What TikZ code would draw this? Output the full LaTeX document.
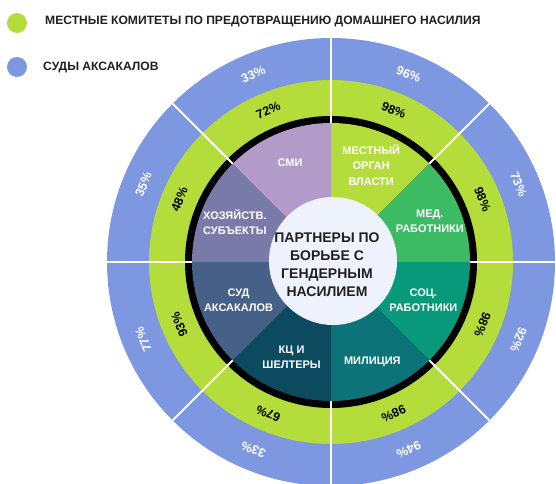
\documentclass[tikz,border=0pt]{standalone}
\usepackage{fontspec}
\setmainfont{Liberation Sans}

\definecolor{ringblue}{RGB}{125,151,225}
\definecolor{ringgreen}{RGB}{180,220,58}
\definecolor{medcol}{RGB}{60,186,100}
\definecolor{soccol}{RGB}{8,152,122}
\definecolor{milcol}{RGB}{12,115,121}
\definecolor{kccol}{RGB}{12,74,96}
\definecolor{sudcol}{RGB}{70,96,135}
\definecolor{hozcol}{RGB}{122,122,168}
\definecolor{smicol}{RGB}{178,155,201}
\definecolor{hubcol}{RGB}{238,242,253}
\definecolor{textdark}{RGB}{35,31,32}

\begin{document}
\begin{tikzpicture}[x=1pt,y=1pt,
  pct/.style={font=\bfseries\fontsize{12.5}{14}\selectfont, inner sep=0pt},
  partner/.style={font=\bfseries\fontsize{11}{15.5}\selectfont, text=white, align=center, inner sep=0pt},
  legend/.style={font=\bfseries\fontsize{12.1}{15}\selectfont, text=textdark, anchor=west, inner sep=0pt},
  dot/.style={circle, minimum size=20pt, inner sep=0pt}]
% Configurable parameters
\def\outerradius{224}
\def\greenradius{182}
\def\blackradius{146}
\def\sectorradius{139}
\def\hubradius{64}

\useasboundingbox (-331,-221) rectangle (225,262);

% Rings
\fill[ringblue] (0,0) circle (\outerradius);
\fill[ringgreen] (0,0) circle (\greenradius);
\fill[black] (0,0) circle (\blackradius);

% Partner sectors
\foreach \a/\col in {45/ringgreen, 0/medcol, -45/soccol, -90/milcol, -135/kccol, 180/sudcol, 135/hozcol, 90/smicol}
  \fill[\col] (0,0) -- (\a:\sectorradius) arc (\a:\a+45:\sectorradius) -- cycle;

% Dividers
\foreach \a in {0,45,...,315}
  \draw[white, line width=2pt] (\a:\sectorradius) -- (\a:\outerradius);

% Hub
\fill[hubcol] (2,1) circle (\hubradius);
\node[align=center, font=\bfseries\fontsize{14}{18}\selectfont, text=textdark, inner sep=0pt] (hub) at (-4,-3) {ПАРТНЕРЫ ПО\\БОРЬБЕ С\\ГЕНДЕРНЫМ\\НАСИЛИЕМ};

% Partner labels
\node[partner] (mestn) at (67.5:105) {МЕСТНЫЙ\\ОРГАН\\ВЛАСТИ};
\node[partner] (med) at (22.5:107) {МЕД.\\РАБОТНИКИ};
\node[partner] (soc) at (-22.5:100) {СОЦ.\\РАБОТНИКИ};
\node[partner] (mil) at (-67.5:108) {МИЛИЦИЯ};
\node[partner] (kc) at (-112.5:103) {КЦ И\\ШЕЛТЕРЫ};
\node[partner] (sud) at (-157.5:100) {СУД\\АКСАКАЛОВ};
\node[partner] (hoz) at (157.5:104) {ХОЗЯЙСТВ.\\СУБЪЕКТЫ};
\node[partner] (smi) at (112.5:107) {СМИ};

% Percentages
\foreach \a/\g/\b [count=\i] in {112.5/72/33, 67.5/98/96, 22.5/98/73, -22.5/98/92, -67.5/98/94, -112.5/67/33, -157.5/93/77, 157.5/48/35} {
  \node[pct, rotate=\a-90] (g\i) at (\a:164) {\g\%};
  \node[pct, text=white, rotate=\a-90] (b\i) at (\a:203) {\b\%};
}

% Legend
\node[dot, fill=ringgreen] (dot1) at (-314,239) {};
\node[legend] (leg1) at (-286,241) {МЕСТНЫЕ КОМИТЕТЫ ПО ПРЕДОТВРАЩЕНИЮ ДОМАШНЕГО НАСИЛИЯ};
\node[dot, fill=ringblue] (dot2) at (-314,195) {};
\node[legend] (leg2) at (-288,195) {СУДЫ АКСАКАЛОВ};
\end{tikzpicture}
\end{document}
